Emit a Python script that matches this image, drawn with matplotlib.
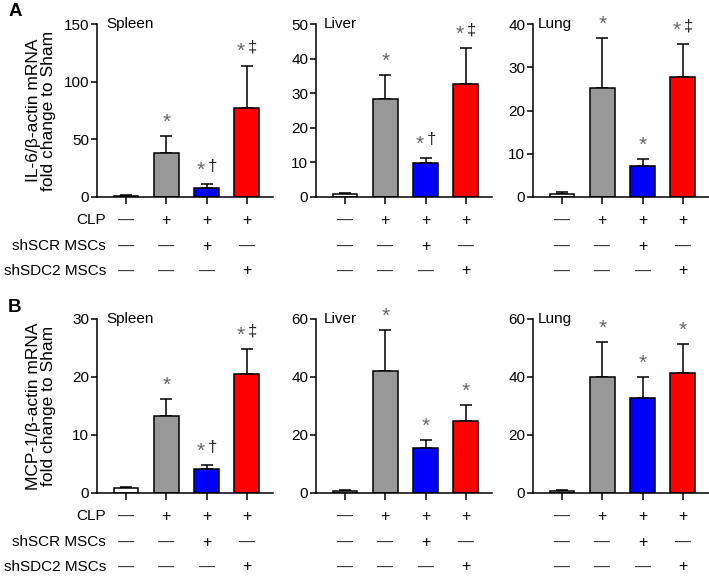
import matplotlib
matplotlib.use("Agg")
import matplotlib.pyplot as plt

plt.rcParams["font.family"] = ["Liberation Sans", "DejaVu Sans"]

# ─── DATA ────────────────────────────────────────────────────────────────────
ORGANS = ["Spleen", "Liver", "Lung"]
GROUPS = ["Sham", "CLP", "CLP+shSCR", "CLP+shSDC2"]
BAR_COLORS = ["#ffffff", "#999999", "#0000ff", "#ff0000"]

# IL-6 (panel A): mean and upper SEM per organ
IL6_MEAN = [[1.0, 38.5, 8.0, 77.0],
            [0.8, 28.3, 9.9, 32.6],
            [0.7, 25.3, 7.1, 27.8]]
IL6_ERR = [[0.6, 14.5, 3.0, 37.0],
           [0.4, 7.0, 1.4, 10.4],
           [0.5, 11.5, 1.6, 7.6]]
IL6_SIG = [["", "*", "* †", "* ‡"],
           ["", "*", "* †", "* ‡"],
           ["", "*", "*", "* ‡"]]
IL6_YMAX = [150, 50, 40]
IL6_TICKS = [[0, 50, 100, 150], [0, 10, 20, 30, 40, 50], [0, 10, 20, 30, 40]]

# MCP-1 (panel B)
MCP_MEAN = [[0.8, 13.3, 4.1, 20.6],
            [0.7, 42.0, 15.6, 24.8],
            [0.6, 40.0, 32.8, 41.4]]
MCP_ERR = [[0.3, 2.9, 0.7, 4.2],
           [0.5, 14.2, 2.7, 5.6],
           [0.4, 12.0, 7.2, 10.0]]
MCP_SIG = [["", "*", "* †", "* ‡"],
           ["", "*", "*", "*"],
           ["", "*", "*", "*"]]
MCP_YMAX = [30, 60, 60]
MCP_TICKS = [[0, 10, 20, 30], [0, 20, 40, 60], [0, 20, 40, 60]]

ROW_NAMES = ["CLP", "shSCR MSCs", "shSDC2 MSCs"]
ROW_MARKS = [["—", "+", "+", "+"],
             ["—", "—", "+", "—"],
             ["—", "—", "—", "+"]]

YLABELS = ["IL-6/β-actin mRNA\nfold change to Sham",
           "MCP-1/β-actin mRNA\nfold change to Sham"]
# ─────────────────────────────────────────────────────────────────────────────

W, H = 709, 582
SPINE_X = [97, 316, 533]
AX_W = 176
TITLE_DX = [9, 8, 5]
ROWS = [
    dict(top=24, bottom=197, mean=IL6_MEAN, err=IL6_ERR, sig=IL6_SIG,
         ymax=IL6_YMAX, ticks=IL6_TICKS, letter="A"),
    dict(top=319, bottom=493, mean=MCP_MEAN, err=MCP_ERR, sig=MCP_SIG,
         ymax=MCP_YMAX, ticks=MCP_TICKS, letter="B"),
]
TABLE_DY = [23, 49, 74]
LW = 1.1
STAR_COLOR = "#666666"

fig = plt.figure(figsize=(W / 100, H / 100), dpi=100, facecolor="white")

for r, row in enumerate(ROWS):
    ax_h = row["bottom"] - row["top"]
    for c, organ in enumerate(ORGANS):
        ax = fig.add_axes([SPINE_X[c] / W, 1 - row["bottom"] / H,
                           AX_W / W, ax_h / H])
        xs = range(len(GROUPS))
        means = row["mean"][c]
        errs = row["err"][c]
        ax.bar(xs, means, width=0.62, color=BAR_COLORS,
               edgecolor="black", linewidth=LW, zorder=2,
               yerr=[[0] * len(errs), errs],
               error_kw=dict(ecolor="black", elinewidth=LW, capsize=4.5,
                             capthick=LW, zorder=1))
        ax.set_xlim(-0.72, 3.65)
        ax.set_ylim(0, row["ymax"][c])
        ax.set_yticks(row["ticks"][c])
        ax.set_xticks(list(xs))
        ax.set_xticklabels([])
        for s in ["top", "right"]:
            ax.spines[s].set_visible(False)
        for s in ["left", "bottom"]:
            ax.spines[s].set_linewidth(LW)
        ax.tick_params(axis="y", direction="out", length=4, width=LW,
                       labelsize=11, pad=1.5)
        ax.tick_params(axis="x", direction="out", length=5, width=LW)

        ax.annotate(organ, xy=(0, 1), xycoords="axes fraction",
                    xytext=(TITLE_DX[c] * 0.72, 0), textcoords="offset points",
                    ha="left", va="center", fontsize=11)

        # significance marks above the error bars
        for i, lab in enumerate(row["sig"][c]):
            if not lab:
                continue
            top = means[i] + errs[i]
            parts = lab.split()
            dx = 0 if len(parts) == 1 else -4.5
            ax.annotate("*", xy=(i, top), xytext=(dx, 10),
                        textcoords="offset points", ha="center",
                        va="center", fontsize=15, color=STAR_COLOR,
                        annotation_clip=False)
            if len(parts) > 1:
                ax.annotate(parts[1], xy=(i, top), xytext=(4, 13),
                            textcoords="offset points", ha="center",
                            va="center", fontsize=12, color="#222222",
                            annotation_clip=False)

        # treatment table under the bars
        trans = ax.get_xaxis_transform()
        for k, marks in enumerate(ROW_MARKS):
            yy = -TABLE_DY[k] / ax_h
            for i, m in enumerate(marks):
                ax.text(i, yy, m, transform=trans, ha="center", va="center",
                        fontsize=11.5,
                        color="black" if m == "+" else "#333333")
            if c == 0:
                ax.text(-0.5, yy, ROW_NAMES[k], transform=trans, ha="right",
                        va="center", fontsize=11)

    mid = (row["top"] + row["bottom"]) / 2
    fig.text(41 / W, 1 - mid / H, YLABELS[r], rotation=90, ha="center",
             va="center", fontsize=12.5, linespacing=1.0)
    fig.text(15 / W, 1 - (row["top"] - 12) / H, row["letter"], ha="center",
             va="center", fontsize=13.5, fontweight="bold")

fig.savefig("out.png", dpi=100, facecolor="white")
